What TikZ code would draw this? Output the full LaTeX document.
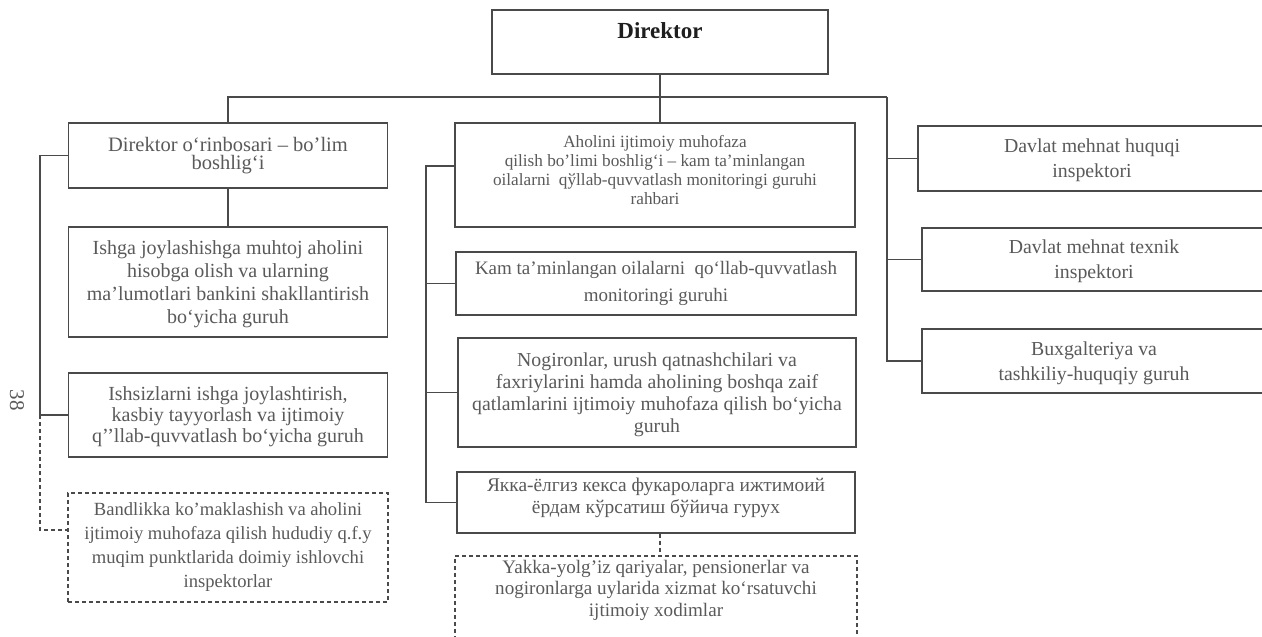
\documentclass[tikz,border=0pt]{standalone}
\usepackage{fontspec}
\setmainfont{Liberation Serif}
\usetikzlibrary{calc}
\definecolor{linec}{HTML}{4A4A4A}
\definecolor{textc}{HTML}{5A5A5A}
\definecolor{headc}{HTML}{1E1E1E}
\tikzset{
  orgbox/.style 2 args={draw=linec, line width=1.1pt, text=textc, align=center,
    inner sep=0pt, font=\fontsize{#1}{#2}\selectfont},
  dorgbox/.style 2 args={orgbox={#1}{#2}, dash pattern=on 4pt off 3pt},
  link/.style={draw=linec, line width=1.1pt},
  dlink/.style={link, dash pattern=on 4pt off 3pt},
}
\begin{document}
\begin{tikzpicture}[x=1pt,y=-1pt]
\useasboundingbox (0,0) rectangle (1262,637);
\clip (0,0) rectangle (1262,637);
\fill[white] (0,0) rectangle (1262,637);

% head of the organisation
\node[orgbox={23}{24}, minimum width=336pt, minimum height=64pt, text=headc,
      font=\fontsize{23}{24}\selectfont\bfseries, text depth=22pt]
  (dir) at (660,42) {Direktor};

% left column
\node[orgbox={20.5}{18}, minimum width=319pt, minimum height=65pt] (L1) at (228,155.5)
  {Direktor o‘rinbosari – bo’lim\\boshlig‘i};
\node[orgbox={20}{23}, minimum width=319pt, minimum height=110pt, text depth=-0.7pt] (L2) at (228,282)
  {Ishga joylashishga muhtoj aholini\\hisobga olish va ularning\\ma'lumotlari bankini shakllantirish\\bo‘yicha guruh};
\node[orgbox={20}{21}, minimum width=319pt, minimum height=84pt, text depth=-0.7pt] (L3) at (228,415)
  {Ishsizlarni ishga joylashtirish,\\kasbiy tayyorlash va ijtimoiy\\q’’llab-quvvatlash bo‘yicha guruh};
\node[dorgbox={18.6}{24}, minimum width=320pt, minimum height=109pt] (L4) at (228,547.5)
  {Bandlikka ko'maklashish va aholini\\ijtimoiy muhofaza qilish hududiy q.f.y\\muqim punktlarida doimiy ishlovchi\\inspektorlar};

% middle column
\node[orgbox={17.2}{19}, minimum width=400pt, minimum height=104pt, text depth=10pt] (M1) at (655,175)
  {Aholini ijtimoiy muhofaza\\qilish bo'limi boshlig‘i – kam ta'minlangan\\oilalarni\ \ qўllab-quvvatlash monitoringi guruhi\\rahbari};
\node[orgbox={19}{27}, minimum width=400pt, minimum height=63pt] (M2) at (656,283.5)
  {Kam ta'minlangan oilalarni\ \ qo‘llab-quvvatlash\\monitoringi guruhi};
\node[orgbox={19.8}{22}, minimum width=398pt, minimum height=109pt, text depth=0.3pt] (M3) at (657,392.5)
  {Nogironlar, urush qatnashchilari va\\faxriylarini hamda aholining boshqa zaif\\qatlamlarini ijtimoiy muhofaza qilish bo‘yicha\\guruh};
\node[orgbox={19.4}{22}, minimum width=398pt, minimum height=61pt, text depth=12.5pt] (M4) at (656,502.5)
  {Якка-ёлгиз кекса фукароларга ижтимоий\\ёрдам кўрсатиш бўйича гурух};
\node[dorgbox={19.1}{21.5}, minimum width=402pt, minimum height=89pt, text depth=25pt] (M5) at (656,600.5)
  {Yakka-yolg'iz qariyalar, pensionerlar va\\nogironlarga uylarida xizmat ko‘rsatuvchi\\ijtimoiy xodimlar};

% right column
\node[orgbox={19.8}{25}, minimum width=348pt, minimum height=65pt, text depth=-5.7pt] (R1) at (1092,158.5)
  {Davlat mehnat huquqi\\inspektori};
\node[orgbox={19.8}{25}, minimum width=344pt, minimum height=63pt, text depth=-1.7pt] (R2) at (1094,259.5)
  {Davlat mehnat texnik\\inspektori};
\node[orgbox={19.8}{25}, minimum width=344pt, minimum height=64pt, text depth=-1.7pt] (R3) at (1094,361)
  {Buxgalteriya va\\tashkiliy-huquqiy guruh};

% page number
\node[text=textc, font=\fontsize{21}{21}\selectfont, rotate=-90] (pg) at (17,400) {38};

% junction points
\coordinate (busR) at (887,97);
\coordinate (lb) at (40,0);
\coordinate (ld) at (40,530);
\coordinate (mb) at (426,166);

% main bus
\draw[link] (L1.north) |- (busR);
\draw[link] (dir.south) -- (dir.south |- M1.north);
\draw[link] (L1.south) -- (L2.north);

% right branch
\draw[link] (busR) |- (R3.west);
\draw[link] (busR |- R1.west) -- (R1.west);
\draw[link] (busR |- R2.west) -- (R2.west);

% left bracket
\draw[link] (L1.west) -- (L1.west -| lb) -- (lb |- L3.west) -- (L3.west);
\draw[dlink] (lb |- L3.west) -- (ld) -- (ld -| L4.west);

% middle bracket
\draw[link] (mb -| M1.west) -- (mb) |- (M4.west);
\draw[link] (mb |- M2.west) -- (M2.west);
\draw[link] (mb |- M3.west) -- (M3.west);
\draw[dlink] (M4.south -| dir.south) -- (M5.north -| dir.south);
\end{tikzpicture}
\end{document}
